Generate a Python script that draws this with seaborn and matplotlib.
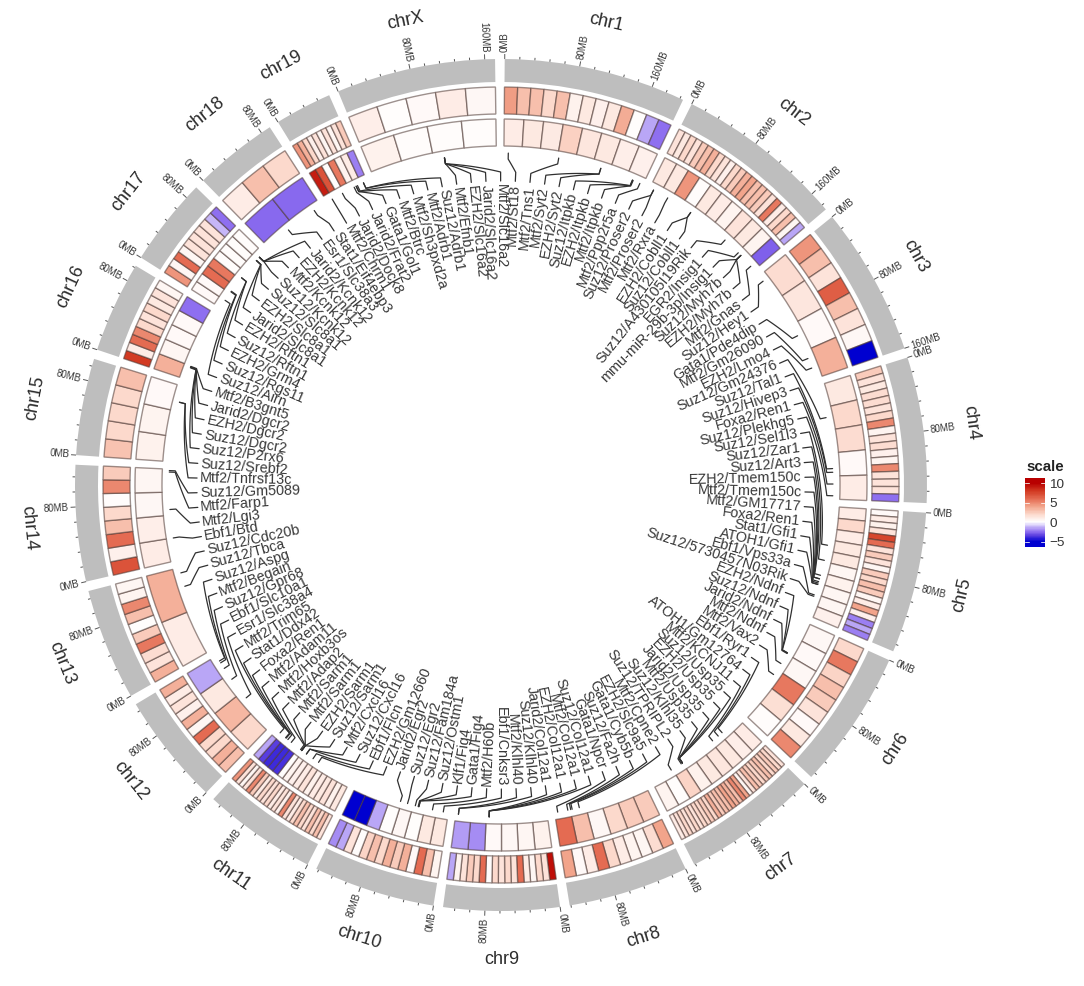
"""
Circular genome heatmap: two tracks of binned scores per mouse chromosome,
with a ring of factor/gene labels tied to their genomic positions.
"""

import numpy as np
import matplotlib.pyplot as plt
import seaborn as sns
from matplotlib.colors import LinearSegmentedColormap

chroms = ["chr1", "chr2", "chr3", "chr4", "chr5", "chr6", "chr7", "chr8", "chr9", "chr10",
          "chr11", "chr12", "chr13", "chr14", "chr15", "chr16", "chr17", "chr18", "chr19", "chrX"]
chrom_mb = [195.5, 182.1, 160.0, 156.5, 151.8, 149.7, 145.4, 129.4, 124.6, 130.7,
            122.1, 120.1, 120.4, 124.9, 104.0, 98.2, 95.0, 90.7, 61.4, 171.0]

outer_values = [
    [4.2, 3, 3, 2, 3, .7, 1.2, .8, 1.2, 3.7, .1, -1.5, -2.5],
    [1.5, 1.2, 2, 1.5, 2.5, 3, 3.5, 2, 1.5, .8, 2, 2.5, 3.5, 4, 3, 3, 2.5, 1.5, 5.5, 1, 2, 3, .5, -1.5],
    [4.5, 3, 1.5, 6.5, 3, 1.5, .4, -5],
    [2.5, 1.5, 1.2, 1.8, 1.8, 1.5, 2, 5, .6, 1.5, 1.8, .8, .6, 5, 1.5, 1.5, 1.5, -2.5],
    [.3, 1, .7, 1.5, 7.5, 6, 1.5, 2.5, 1.5, .5, 2.5, 2, 3, 2.5, .5, 1, 4, .8, -2.2, -1.5, -2.2],
    [2, 5.5, 2.2, 3, 2.5, 1.5, .3, 1.2, 5],
    [1.5, 2, 2.5, 2, 3, 2.5, 2, 2.5, 3, 1.5, .5, 4, 5, 3, 3.5, 4, 3, 3, 2.5, 3.5, 2, 2.5, 2, 2, 1.5, 2, 1.5, 2, 1.5, 1],
    [4, 1.8, .5, .6, 1, 2, 6, 1, .3, 4],
    [9.5, 1.5, 2, .5, 1, 6, 1.5, 2, 1.5, 2, .2, 6, 2, 2.5, 1.5, .6, -1.5],
    [.6, 3, 6, .3, 3.5, 2.5, 3.5, 2, 3, 2.2, .2, 1.5, -1.5, -2],
    [1.5, 3, 2, 3, 1.5, 2, 3, 2, 1, 1.5, 5, .8, 1.5, 1, 2, 1.5, 2, 1, 2.5, 5, 1.5, .5, 1.5, 4.5],
    [3, 3.5, 2, 2, 6, .5, 3.5, .8, 1.5, 1, 3.5],
    [3.5, 1.5, 1.8, 5.5, 2.5, .1, 3, 5, .6, .5],
    [7, .8, 6, 3, 2, .2, 5, 2.5],
    [2.8, 2, 2, 2, 3],
    [8, 1, 6, 5, 2, 1.5, 2, 1.2, 1.5, .5],
    [4.5, .5, 6, .5, 1.5, 1.5, 1.5, 1.5, -1.2, -2.5],
    [1, 3, 2],
    [4.5, 3.5, 2, .8, 1.5, .5, 1.5, .5, 1.5, 2.5],
    [.9, .1, .3, 1, .4],
]
inner_values = [
    [1, 1.2, 1.1, 2.3, 1.3, 1.2, .9, .8],
    [1.2, 1.2, 4.5, .2, 1.2, 1, .6, 1.5, 1.2, .6, -2.8],
    [1.8, 1.3, .3, 3.5],
    [1.2, 2, 1.8, .3, 1],
    [1, 2, 1, 1.2, 1.2, .5, .7, .5, .5, .8],
    [.4, .3, .4, 5.5, 1.7, .2],
    [1, .9, 1.2, 1.3, 1.2, .7, 2.2, .1, .6],
    [2.5, 2.5, 2, .4, 3, 6],
    [.7, .5, .4, .3, -2, -1.7],
    [1.2, 1.2, .1, .4, .1, -1.5, -5, -5],
    [1.2, .7, 1.5, 1.2, 1, .7, 1.4, 1, .8, .6, .1, -3.8, -4, -4, -3.5, -1.5],
    [2, 3.3, 1.2, -1.5],
    [1, 3.5],
    [1, .9, .4, .5],
    [.7, .6, .3],
    [3.5, .5, .3, .3, -2.5],
    [.3, .3, 6, 5.5, .2, .2, .2, .2],
    [-2.6, -2.6],
    [9, 7, .1, 5.5, .6, 1, -2.2],
    [.7, .2, .2, .2],
]

label_names = [
    "Mtf2/St18", "Mtf2/Tns1", "Mtf2/Syt2", "EZH2/Syt2", "Suz12/Itpkb", "EZH2/Itpkb", "Mtf2/Itpkb",
    "Mtf2/Ppp2r5a", "Suz12/Proser2", "Mtf2/Proser2", "Mtf2/Rxra", "EZH2/Cobll1", "Suz12/Cobll1",
    "Suz12/A430105I19Rik", "EGR2/Insig1", "mmu-miR-29b-3p/Insig1", "Suz12/Myh7b", "EZH2/Myh7b",
    "Mtf2/Gnas", "Suz12/Hey1", "Gata1/Pde4dip", "Mtf2/Gm26090", "EZH2/Lmo4", "Suz12/Gm24376",
    "Suz12/Tal1", "Suz12/Hivep3", "Foxa2/Ren1", "Suz12/Plekhg5", "Suz12/Sel1l3", "Suz12/Zar1",
    "Suz12/Art3", "EZH2/Tmem150c", "Mtf2/Tmem150c", "Mtf2/GM17717", "Foxa2/Ren1", "Stat1/Gfi1",
    "ATOH1/Gfi1", "Ebf1/Vps33a", "Suz12/5730457N03Rik", "EZH2/Ndnf", "Suz12/Ndnf", "Jarid2/Ndnf",
    "Mtf2/Ndnf", "Mtf2/Vax2", "Ebf1/Ryr1", "ATOH1/Gm12764", "Mtf2/KCNJ11", "Suz12/Usp35",
    "EZH2/Usp35", "Jarid2/Usp35", "Mtf2/Usp35", "Suz12/Klhl35", "Suz12/TPRIPL2", "Mtf2/Cpne2",
    "EZH2/Slc9a5", "Gata1/Cyb5b", "Suz12/Fa2h", "Gata1/Npcr", "Suz12/Col12a1", "Mtf2/Col12a1",
    "EZH2/Col12a1", "Jarid2/Col12a1", "Suz12/Klhl40", "Mtf2/Klhl40", "Ebf1/Cnksr3", "Mtf2/H60b",
    "Gata1/Fig4", "Klf1/Fig4", "Suz12/Ostm1", "Suz12/Fam184a", "Suz12/Egr2", "Jarid2/Egr2",
    "EZH2/Gm12660", "Ebf1/Flcn", "Suz12/Cxcl16", "Mtf2/Cxcl16", "Suz12/Sarm1", "EZH2/Sarm1",
    "Mtf2/Sarm1", "Mtf2/Sarm1", "Mtf2/Adap2", "Mtf2/Hoxb3os", "Mtf2/Adam11", "Foxa2/Ren1",
    "Stat1/Ddx42", "Mtf2/Trim65", "Esr1/Slc38a4", "Ebf1/Slc10a1", "Suz12/Gpr68", "Mtf2/Begain",
    "Suz12/Aspg", "Suz12/Tbca", "Suz12/Cdc20b", "Ebf1/Btd", "Mtf2/Lgi3", "Mtf2/Farp1",
    "Suz12/Gm5089", "Mtf2/Tnfrsf13c", "Suz12/Srebf2", "Suz12/P2rx6", "Suz12/Dgcr2", "EZH2/Dgcr2",
    "Jarid2/Dgcr2", "Mtf2/B3gnt5", "Suz12/Airn", "Suz12/Rgs11", "EZH2/Grm4", "Suz12/Rftn1",
    "EZH2/Rftn1", "Jarid2/Slc8a1", "EZH2/Slc8a1", "Suz12/Slc8a1", "Suz12/Kcnk12", "Mtf2/Kcnk12",
    "EZH2/Kcnk12", "Jarid2/Kcnk12", "Esr1/Slc38a3", "Stat1/Eif4ebp3", "Mtf2/Chrm1", "Jarid2/Dock8",
    "Jarid2/Frat2", "Gata1/Gol1", "Mtf2/Btrc", "Mtf2/Sh3pxd2a", "Mtf2/Adrb1", "Suz12/Adrb1",
    "Mtf2/Efnb1", "EZH2/Slc16a2", "Jarid2/Slc16a2", "Mtf2/Slc16a2",
]
label_chrom = [0] * 8 + [1] * 11 + [2] * 4 + [3] * 5 + [4] * 11 + [5] * 5 + [6] * 9 + [7] * 5 \
    + [8] * 6 + [9] * 8 + [10] * 14 + [11] * 5 + [12] * 2 + [13] * 4 + [14] * 2 + [15] * 5 \
    + [16] * 12 + [17] * 2 + [18] * 8 + [19] * 4
label_mb = [
    6, 75, 134, 134, 180, 180, 181, 191,
    6, 6, 28, 65, 65, 125, 150, 155, 155, 155, 175,
    9, 97, 131, 145,
    45, 115, 120, 136, 152,
    53, 74, 95, 100, 100, 104, 106, 108, 108, 123, 125,
    48, 48, 49, 65, 83,
    29, 36, 46, 97, 97, 97, 97, 99, 115,
    95, 105, 107, 111, 125,
    79, 79, 79, 79, 121, 121,
    7, 22, 41, 41, 42, 46, 57, 67,
    50, 59, 70, 70, 78, 78, 78, 78, 80, 96, 102, 105, 106, 116,
    50, 82, 100, 109, 112,
    94, 113,
    31, 70, 121, 123,
    82, 82,
    17, 18, 18, 18, 19,
    12, 26, 27, 50, 50, 81, 81, 81, 87, 87, 87, 87,
    36, 80,
    8, 24, 42, 45, 45, 47, 56, 56,
    100, 100, 100, 100,
]

color_stops = [(-5, "#0000D0"), (-3.5, "#5B3FE0"), (-2.5, "#9070F0"), (-1.25, "#C5B5F8"),
               (0, "#FFFFFF"), (2, "#FCD9CC"), (4, "#F2A48B"), (6, "#E46B52"),
               (8, "#D23A22"), (10, "#B80000")]

sns.set_theme(style="white")
plt.rcParams["font.family"] = ["Liberation Sans", "DejaVu Sans"]

cmap = LinearSegmentedColormap.from_list(
    "scale", [((v + 5) / 15, c) for v, c in color_stops])

# the polar axes radius is set up in pixels of the 1084x986 canvas
WIDTH, HEIGHT = 1084, 986
CX, CY, RMAX = 501, 485, 490
fig = plt.figure(figsize=(WIDTH / 100, HEIGHT / 100), dpi=100, facecolor="white")
ax = fig.add_axes([(CX - RMAX) / WIDTH, (HEIGHT - CY - RMAX) / HEIGHT,
                   2 * RMAX / WIDTH, 2 * RMAX / HEIGHT], projection="polar")
ax.set_theta_zero_location("N")
ax.set_theta_direction(-1)
ax.set_axis_off()

GAP = 1.3
DEG_PER_MB = (360 - GAP * len(chroms)) / sum(chrom_mb)
START = 0.5
EDGE = (0.3, 0.22, 0.2, 0.55)

starts = START + np.concatenate([[0], np.cumsum(np.array(chrom_mb) * DEG_PER_MB + GAP)[:-1]])


def radial_text(theta, r, text, size, color, inward=False):
    """Radial text that stays readable on both halves of the circle."""
    right = theta % 360 < 180
    rotation = 90 - theta if right else 270 - theta
    if inward:
        ha = "right" if right else "left"
    else:
        ha = "left" if right else "right"
    ax.text(np.radians(theta), r, text, rotation=rotation, rotation_mode="anchor",
            ha=ha, va="center", fontsize=size, color=color)


for name, mb, start, outer, inner in zip(chroms, chrom_mb, starts, outer_values, inner_values):
    span = mb * DEG_PER_MB

    # grey ideogram
    ax.bar(np.radians(start + span / 2), 23, np.radians(span), bottom=403,
           color="#BEBEBE", linewidth=0)

    # axis ticks, every 16 Mb with a label every 80 Mb
    for tick in range(0, int(mb) + 1, 16):
        th = start + tick * DEG_PER_MB
        major = tick % 80 == 0
        ax.plot([np.radians(th)] * 2, [426, 431 if major else 428.5],
                color="#555555", lw=0.7, solid_capstyle="butt")
        if major:
            radial_text(th, 433, f"{tick}MB", 7, "#333333")

    # chromosome name follows the circle
    mid = start + span / 2
    rot = -mid if (mid < 90 or mid > 270) else 180 - mid
    ax.text(np.radians(mid), 474, name, rotation=rot, rotation_mode="anchor",
            ha="center", va="center", fontsize=13, color="#2b2b2b")

    # heatmap tracks
    for values, r0, r1 in ((outer, 371, 398), (inner, 339, 366)):
        n = len(values)
        w = span / n
        centers = start + w * (np.arange(n) + 0.5)
        ax.bar(np.radians(centers), r1 - r0, np.radians(w), bottom=r0,
               color=cmap((np.array(values) + 5) / 15), edgecolor=EDGE, linewidth=1.0)

# labels sit evenly around the ring, connectors run back to the genomic position
n_labels = len(label_names)
for i, (text, c, mb) in enumerate(zip(label_names, label_chrom, label_mb)):
    src = starts[c] + mb * DEG_PER_MB
    lab = 2.7 + i * 360 / n_labels
    mid_th = np.linspace(src, lab, 30)
    thetas = np.concatenate([[src], mid_th, [lab]])
    radii = np.concatenate([[332], np.linspace(326, 313, 30), [304]])
    ax.plot(np.radians(thetas), radii, color="#303030", lw=0.9, zorder=1)
    radial_text(lab, 301, text, 10.4, "#383838", inward=True)

ax.set_rlim(0, RMAX)

# colour key
bar_top, bar_bottom = 11.3, -6.4
cax = fig.add_axes([1025 / WIDTH, (HEIGHT - 547) / HEIGHT, 20 / WIDTH, 69 / HEIGHT])
gradient = np.linspace(bar_top, bar_bottom, 120).reshape(-1, 1)
sns.heatmap(gradient, cmap=cmap, vmin=-5, vmax=10, cbar=False, ax=cax,
            xticklabels=False, yticklabels=False)
tick_vals = [10, 5, 0, -5]
tick_pos = [(bar_top - v) / (bar_top - bar_bottom) * 120 for v in tick_vals]
cax.yaxis.tick_right()
cax.set_yticks(tick_pos)
cax.set_yticklabels(["10", "5", "0", "\u22125"], rotation=0, fontsize=9.7, color="#333333")
cax.tick_params(axis="y", length=0, pad=3, right=False)
for pos in tick_pos[:2] + tick_pos[3:]:
    cax.plot([0, 0.2], [pos, pos], color="white", lw=0.7, alpha=0.8)
    cax.plot([0.8, 1], [pos, pos], color="white", lw=0.7, alpha=0.8)
cax.text(0.05, 1.06, "scale", transform=cax.transAxes, ha="left", va="bottom",
         fontsize=10.8, fontweight="bold", color="#222222")

assert len(label_chrom) == len(label_mb) == n_labels, (len(label_chrom), len(label_mb), n_labels)
fig.savefig("out.png", dpi=100)
